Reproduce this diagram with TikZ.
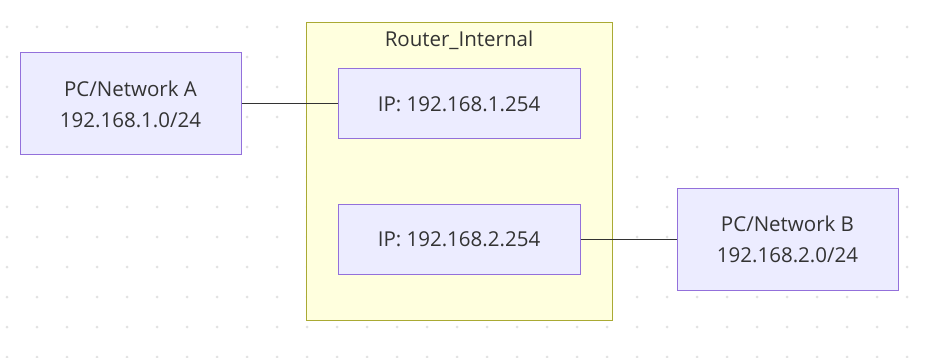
\documentclass[tikz,border=0pt]{standalone}
\usepackage{fontspec}
\setmainfont{Open Sans}
\definecolor{nodefill}{HTML}{ECECFF}
\definecolor{nodeline}{HTML}{9370DB}
\definecolor{clusterfill}{HTML}{FFFFDE}
\definecolor{clusterline}{HTML}{AAAA33}
\definecolor{txt}{HTML}{333333}
\definecolor{dotc}{HTML}{E2E2E2}
\begin{document}
\begin{tikzpicture}[x=1pt,y=-1pt,
  netbox/.style={draw=nodeline,fill=nodefill,line width=1pt,text=txt,align=center,inner sep=0pt,
    font=\fontsize{20.5}{31}\selectfont},
  link/.style={draw=txt,line width=1pt}]
\useasboundingbox (0,0) rectangle (926,358);
\fill[white] (0,0) rectangle (926,358);
% dotted grid
\foreach \i in {0,...,30}{
  \foreach \j in {0,...,11}{
    \fill[dotc] ({7+30*\i},{27+30*\j}) circle (1.5);
  }
}
% cluster
\draw[draw=clusterline,fill=clusterfill,line width=1pt] (306,23) rectangle (612,320);
\node[text=txt,font=\fontsize{20.5}{24}\selectfont] (title) at (459,40) {Router\_Internal};
% nodes
\node[netbox,minimum width=221pt,minimum height=102pt] (pca) at (130.5,104) {PC/Network A\\192.168.1.0/24};
\node[netbox,minimum width=242pt,minimum height=70pt] (ip1) at (459,104) {IP: 192.168.1.254};
\node[netbox,minimum width=242pt,minimum height=70pt] (ip2) at (459,239.5) {IP: 192.168.2.254};
\node[netbox,minimum width=221pt,minimum height=102pt] (pcb) at (787.5,239.5) {PC/Network B\\192.168.2.0/24};
% links
\draw[link] (pca.east) -- (ip1.west);
\draw[link] (ip2.east) -- (pcb.west);
\end{tikzpicture}
\end{document}
